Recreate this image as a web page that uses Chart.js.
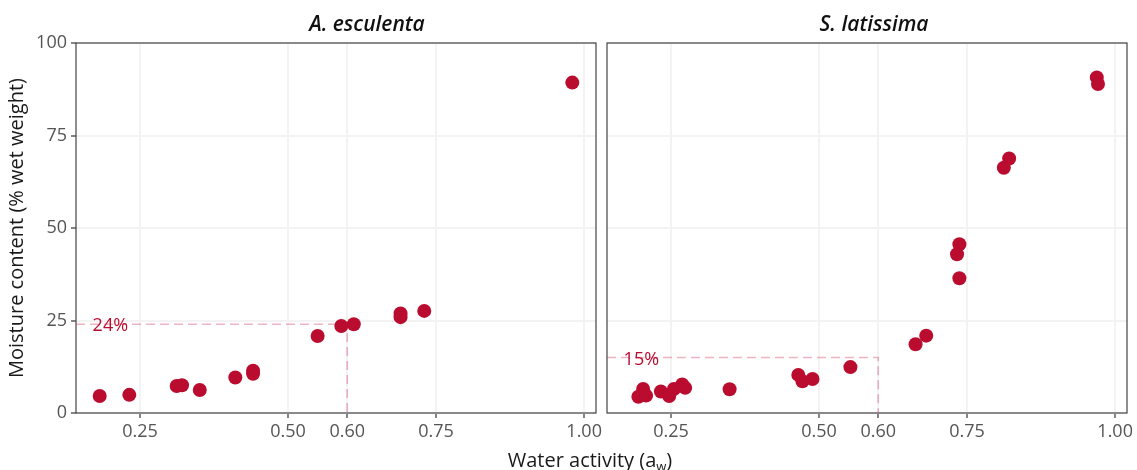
<!DOCTYPE html>
<html>
<head>
<meta charset="utf-8">
<script src="https://cdn.jsdelivr.net/npm/chart.js@4.4.1/dist/chart.umd.min.js"></script>
<style>
  body { margin: 0; background: #fff; }
  #wrap { position: relative; width: 1137px; height: 470px; }
  #wrap canvas { position: absolute; top: 0; }
</style>
</head>
<body>
<div id="wrap">
  <canvas id="left" width="1137" height="470" style="left:0"></canvas>
  <canvas id="right" width="537" height="470" style="left:600px"></canvas>
</div>
<script>
// water activity vs moisture content, one panel per species
const esculentaAw = [0.182, 0.232, 0.312, 0.321, 0.351, 0.411, 0.441, 0.441, 0.550, 0.590, 0.611, 0.690, 0.690, 0.730, 0.980];
const esculentaMoisture = [4.6, 4.9, 7.3, 7.5, 6.2, 9.6, 11.4, 10.6, 20.8, 23.5, 24.0, 26.9, 25.9, 27.6, 89.3];

const latissimaAw = [0.195, 0.203, 0.208, 0.233, 0.247, 0.255, 0.269, 0.274, 0.349, 0.465, 0.472, 0.489, 0.553,
  0.663, 0.681, 0.733, 0.737, 0.737, 0.812, 0.821, 0.969, 0.971];
const latissimaMoisture = [4.4, 6.5, 4.7, 5.8, 4.6, 6.5, 7.7, 6.8, 6.4, 10.3, 8.6, 9.2, 12.4,
  18.6, 20.9, 42.9, 45.6, 36.4, 66.3, 68.8, 90.7, 88.9];

const awTicks = [0.25, 0.50, 0.60, 0.75, 1.00];
const moistureTicks = [0, 25, 50, 75, 100];
const awLimit = 0.6;
const esculentaThreshold = 24;
const latissimaThreshold = 15;
const awRange = [0.142, 1.02];

const RED = '#BA0C2F';
const DASH = 'rgba(205, 40, 80, 0.35)';
const FONT = '"Open Sans", Lato, sans-serif';

function toPoints(xs, ys) {
  return xs.map((x, i) => ({ x: x, y: ys[i] }));
}

function makePanel(canvas, opts) {
  const decor = {
    id: 'decor',
    beforeDatasetsDraw(chart) {
      const a = chart.chartArea, ctx = chart.ctx;
      ctx.save();
      ctx.strokeStyle = '#444';
      ctx.lineWidth = 1.2;
      ctx.strokeRect(a.left, a.top, a.right - a.left, a.bottom - a.top);
      ctx.restore();
    },
    afterDatasetsDraw(chart) {
      const ctx = chart.ctx;
      const xs = chart.scales.x, ys = chart.scales.y;
      ctx.save();
      // threshold label
      ctx.fillStyle = RED;
      ctx.font = '18px ' + FONT;
      ctx.textAlign = 'center';
      ctx.textBaseline = 'middle';
      ctx.fillText(opts.threshold + '%', xs.getPixelForValue(0.2), ys.getPixelForValue(opts.threshold) + 2);
      // facet title
      ctx.fillStyle = '#111';
      ctx.font = 'italic 600 21px ' + FONT;
      ctx.textBaseline = 'alphabetic';
      ctx.fillText(opts.title, opts.titleX, 31);
      // shared x axis title with subscript
      if (opts.xTitle) {
        ctx.fillStyle = '#1a1a1a';
        const main = 'Water activity (a', sub = 'w', tail = ')';
        ctx.font = '20px ' + FONT;
        const w1 = ctx.measureText(main).width, w3 = ctx.measureText(tail).width;
        ctx.font = '13px ' + FONT;
        const w2 = ctx.measureText(sub).width;
        let x = opts.xTitle - (w1 + w2 + w3) / 2;
        const base = 467;
        ctx.textAlign = 'left';
        ctx.font = '20px ' + FONT;
        ctx.fillText(main, x, base);
        x += w1;
        ctx.font = '13px ' + FONT;
        ctx.fillText(sub, x, base + 4);
        x += w2;
        ctx.font = '20px ' + FONT;
        ctx.fillText(tail, x, base);
      }
      ctx.restore();
    }
  };

  return new Chart(canvas, {
    type: 'scatter',
    data: {
      datasets: [
        {
          data: toPoints(opts.aw, opts.moisture),
          backgroundColor: RED,
          borderWidth: 0,
          pointRadius: 7,
          pointHoverRadius: 7,
          order: 0
        },
        {
          type: 'line',
          data: [
            { x: awRange[0], y: opts.threshold },
            { x: awLimit, y: opts.threshold },
            { x: awLimit, y: 0 }
          ],
          borderColor: DASH,
          borderWidth: 1.6,
          borderDash: [9, 5],
          pointRadius: 0,
          fill: false,
          tension: 0,
          order: 1
        }
      ]
    },
    options: {
      responsive: false,
      animation: false,
      devicePixelRatio: 1,
      layout: { padding: { left: 0, top: 43, right: opts.padRight, bottom: 0 } },
      plugins: { legend: { display: false }, tooltip: { enabled: false } },
      scales: {
        x: {
          type: 'linear',
          min: awRange[0],
          max: awRange[1],
          afterBuildTicks: (s) => { s.ticks = awTicks.map(v => ({ value: v })); },
          afterFit: (s) => { s.height = 57; },
          border: { display: false },
          grid: { color: '#f3f3f3', lineWidth: 2, tickColor: '#333', tickWidth: 1.2, tickLength: 5 },
          ticks: {
            color: '#555',
            font: { family: FONT, size: 18 },
            padding: 3,
            maxRotation: 0,
            autoSkip: false,
            callback: (v) => Number(v).toFixed(2)
          }
        },
        y: {
          type: 'linear',
          min: 0,
          max: 100,
          afterBuildTicks: (s) => { s.ticks = moistureTicks.map(v => ({ value: v })); },
          afterFit: (s) => { s.width = opts.yWidth; },
          border: { display: false },
          grid: {
            color: '#f3f3f3', lineWidth: 2, tickColor: '#333', tickWidth: 1.2, tickLength: 5,
            drawTicks: opts.yLabels
          },
          ticks: {
            display: opts.yLabels,
            color: '#555',
            font: { family: FONT, size: 18 },
            padding: 4
          },
          title: {
            display: opts.yLabels,
            text: 'Moisture content (% wet weight)',
            color: '#1a1a1a',
            font: { family: FONT, size: 20 },
            padding: { top: 5, bottom: 0 }
          }
        }
      }
    },
    plugins: [decor]
  });
}

makePanel(document.getElementById('left'), {
  aw: esculentaAw,
  moisture: esculentaMoisture,
  threshold: esculentaThreshold,
  title: 'A. esculenta',
  titleX: 367,
  xTitle: 590,
  padRight: 1137 - 596,
  yWidth: 76,
  yLabels: true
});

makePanel(document.getElementById('right'), {
  aw: latissimaAw,
  moisture: latissimaMoisture,
  threshold: latissimaThreshold,
  title: 'S. latissima',
  titleX: 274,
  xTitle: null,
  padRight: 10,
  yWidth: 7,
  yLabels: false
});
</script>
</body>
</html>
